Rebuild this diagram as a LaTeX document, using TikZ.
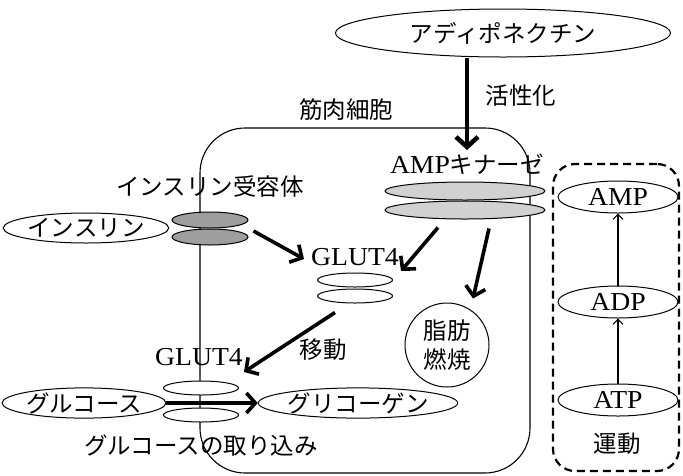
\documentclass[tikz,border=0pt]{standalone}
\usepackage{fontspec}
\setmainfont{Liberation Serif}[Scale=1.1, FakeStretch=1.07]
\newfontfamily\cjk{Noto Sans CJK JP}
\usetikzlibrary{arrows.meta,shapes.geometric,calc}
\begin{document}
\begin{tikzpicture}[x=1pt,y=-1pt,
  font=\fontsize{23.5}{27}\selectfont,
  ell/.style={draw, ellipse, line width=1pt, inner sep=0pt},
  lbl/.style={inner sep=0pt},
  thk/.style={line width=3.6pt, -{Straight Barb[length=9pt,width=20pt]}},
  thn/.style={line width=1.1pt, -{Straight Barb[length=5pt,width=10pt]}},
  darkg/.style={ell, fill=black!38, minimum width=76pt, minimum height=16pt},
  lightg/.style={ell, fill=black!18, minimum width=160pt, minimum height=18pt},
  whitee/.style={ell, fill=white, minimum width=75pt, minimum height=14pt}
]
\useasboundingbox (0,0) rectangle (683,475);

% cell
\node[draw, line width=1.1pt, rounded corners=45pt, minimum width=330pt, minimum height=345pt, inner sep=0pt] (cell) at (365,300.5) {};
% exercise box
\node[draw, dashed, dash pattern=on 8pt off 5pt, line width=2.2pt, rounded corners=22pt, minimum width=126pt, minimum height=307pt, inner sep=0pt] (ex) at (616,317.5) {};

% adiponectin
\node[ell, minimum width=335pt, minimum height=48pt] (adipo) at (503,33) {\cjk アディポネクチン};
\node[lbl] (act) at (521,96) {\cjk 活性化};
\node[lbl] (cellname) at (346,110) {\cjk 筋肉細胞};

% AMP kinase
\node[lbl] (ampkname) at (467,164) {AMP\cjk キナーゼ};
\node[lightg] (ampk1) at (465,191) {};
\node[lightg] (ampk2) at (465,210) {};

% insulin
\node[lbl] (irname) at (210,187) {\cjk インスリン受容体};
\node[darkg] (ir1) at (210,220) {};
\node[darkg] (ir2) at (210,237) {};
\node[ell, minimum width=162pt, minimum height=30pt] (ins) at (86,228) {\cjk インスリン};

% GLUT4 upper
\node[lbl] (gua) at (355,257) {GLUT4};
\node[whitee] (gu1) at (355,280) {};
\node[whitee] (gu2) at (355,296) {};

% fat burning
\node[draw, circle, line width=1pt, minimum size=84pt, inner sep=0pt, align=center, font=\fontsize{23.5}{29}\selectfont] (fat) at (447,345) {\cjk 脂肪\\\cjk 燃焼};

% move label
\node[lbl] (move) at (323,350) {\cjk 移動};

% GLUT4 lower
\node[lbl] (gla) at (199,357) {GLUT4};
\node[whitee] (gl1) at (201,388) {};
\node[whitee] (gl2) at (201,415) {};

% glucose / glycogen
\node[ell, minimum width=160pt, minimum height=30pt] (glc) at (84,403) {\cjk グルコース};
\node[ell, minimum width=160pt, minimum height=30pt] (gly) at (358,403) {\cjk グリコーゲン};
\node[lbl] (uptake) at (201,446) {\cjk グルコースの取り込み};

% AMP ADP ATP
\node[ell, minimum width=120pt, minimum height=32pt] (amp) at (618,197) {AMP};
\node[ell, minimum width=120pt, minimum height=32pt] (adp) at (618,302) {ADP};
\node[ell, minimum width=120pt, minimum height=32pt] (atp) at (618,400) {ATP};
\node[lbl] (undo) at (617,444) {\cjk 運動};

% arrows
\draw[line width=4.6pt, -{Straight Barb[length=10pt,width=22pt]}] (adipo.south -| 467,0) -- (467,150);
\draw[thk] ($(ir2.east)+(5,-6)$) -- ($(gua.west)+(-7,2)$);
\draw[thk] ($(ampk2.south)+(-27,8)$) -- ($(gu1.east)+(8,-9)$);
\draw[thk] ($(ampk2.south)+(24,9)$) -- ($(fat.north)+(26,-4)$);
\draw[thk] ($(gu2.south)+(-20,9)$) -- ($(gl1.east)+(5,-16)$);
\draw[thk] (glc.east) -- (gly.west);
\draw[thn] (atp.north) -- (adp.south);
\draw[thn] (adp.north) -- (amp.south);
\end{tikzpicture}
\end{document}
